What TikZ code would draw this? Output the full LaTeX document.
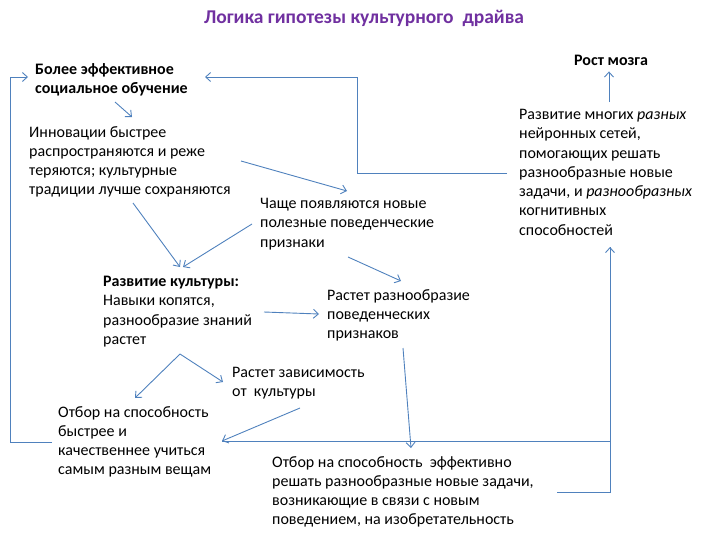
\documentclass[tikz,border=0pt]{standalone}
\usepackage{fontspec}
\setmainfont{Carlito}
\usetikzlibrary{arrows.meta}
\definecolor{arrowBlue}{RGB}{79,129,189}
\definecolor{titlePurple}{RGB}{112,48,160}

\begin{document}
\begin{tikzpicture}[x=1pt, y=-1pt, >={Straight Barb[length=5pt,width=9pt]},
    txt/.style={anchor=north west, inner sep=0pt, align=left, font=\fontsize{16}{19.3}\selectfont},
    link/.style={->, arrowBlue, line width=0.9pt},
    loop/.style={arrowBlue, line width=0.9pt}]
  \useasboundingbox (0,0) rectangle (703,535);

  \node[font=\fontsize{19.5}{23}\selectfont\bfseries, text=titlePurple] (title) at (364,18) {Логика гипотезы культурного~ драйва};

  \node[txt, font=\fontsize{16}{19.3}\selectfont\bfseries] (social) at (35,63) {Более эффективное\\социальное обучение};
  \node[txt] (innov) at (29,126) {Инновации быстрее\\распространяются и реже\\теряются; культурные\\традиции лучше сохраняются};
  \node[txt] (often) at (260,198) {Чаще появляются новые\\полезные поведенческие\\признаки};
  \node[txt] (cult) at (103,276) {\textbf{Развитие культуры:}\\Навыки копятся,\\разнообразие знаний\\растет};
  \node[txt] (divers) at (327,289) {Растет разнообразие\\поведенческих\\признаков};
  \node[txt] (depend) at (232,367) {Растет зависимость\\от~ культуры};
  \node[txt] (learn) at (58,406) {Отбор на способность\\быстрее и\\качественнее учиться\\самым разным вещам};
  \node[txt] (solve) at (272,456) {Отбор на способность~ эффективно\\решать разнообразные новые задачи,\\возникающие в связи с новым\\поведением, на изобретательность};
  \node[txt, anchor=center, font=\fontsize{16}{19.3}\selectfont\bfseries] (brain) at (611,60) {Рост мозга};
  \node[txt] (nets) at (519,109) {Развитие многих \textit{разных}\\нейронных сетей,\\помогающих решать\\разнообразные новые\\задачи, и \textit{разнообразных}\\когнитивных\\способностей};

  \draw[link] ([xshift=80pt,yshift=-39pt]social.north west) -- ([xshift=103pt,yshift=9pt]innov.north west);
  \draw[link] ([xshift=212pt,yshift=-35pt]innov.north west) -- ([xshift=87pt,yshift=7pt]often.north west);
  \draw[link] ([xshift=104pt,yshift=-77pt]innov.north west) -- ([xshift=77pt,yshift=9pt]cult.north west);
  \draw[link] ([xshift=-8pt,yshift=-26pt]often.north west) -- ([xshift=80pt,yshift=9pt]cult.north west);
  \draw[link] ([xshift=88pt,yshift=-59pt]often.north west) -- ([xshift=74pt,yshift=8pt]divers.north west);
  \draw[link] ([xshift=161pt,yshift=-36pt]cult.north west) -- ([xshift=-8pt,yshift=-25pt]divers.north west);
  \draw[link] ([xshift=77pt,yshift=-78pt]cult.north west) -- ([xshift=77pt,yshift=8pt]learn.north west);
  \draw[link] ([xshift=77pt,yshift=-78pt]cult.north west) -- ([xshift=-9pt,yshift=-15pt]depend.north west);
  \draw[link] ([xshift=68pt,yshift=-41pt]depend.north west) -- ([xshift=164pt,yshift=-35pt]learn.north west);
  \draw[link] ([xshift=76pt,yshift=-59pt]divers.north west) -- ([xshift=139pt,yshift=8pt]solve.north west);
  \draw[link] ([xshift=90pt,yshift=7pt]nets.north west) -- ([xshift=-2pt,yshift=-6pt]brain.south);

  \draw[link] ([xshift=-6pt,yshift=-36pt]learn.north west) -- ++(-42,0) |- ([xshift=-7pt,yshift=-14pt]social.north west);
  \draw[link] ([xshift=-12pt,yshift=-64pt]nets.north west) -- ++(-150,0) |- ([xshift=170pt,yshift=-14pt]social.north west);
  \draw[link] ([xshift=164pt,yshift=-35pt]learn.north west) -| ([xshift=91pt,yshift=-138pt]nets.north west);
  \draw[loop] ([xshift=285pt,yshift=-36pt]solve.north west) -| ([xshift=91pt,yshift=-138pt]nets.north west);
\end{tikzpicture}
\end{document}
